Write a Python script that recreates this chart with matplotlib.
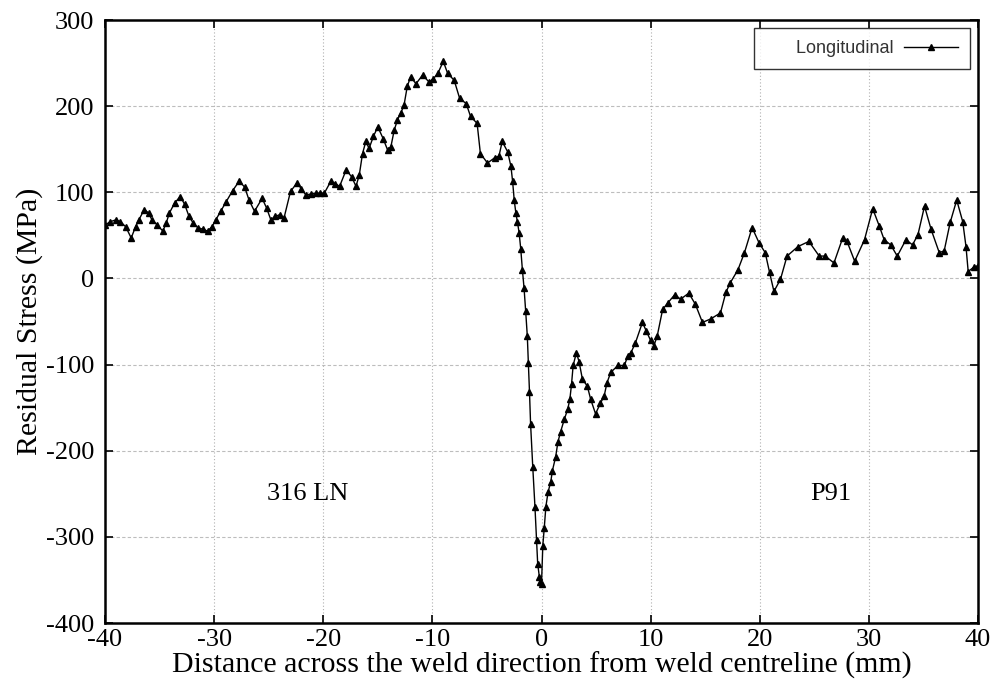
import matplotlib
matplotlib.use("Agg")
import matplotlib.pyplot as plt

# 316 LN side (left of weld)
x_left = [-40, -39.5, -39, -38.6, -38.1, -37.6, -37.2, -36.9, -36.4, -36.0,
          -35.7, -35.2, -34.7, -34.4, -34.1, -33.6, -33.1, -32.7, -32.3, -31.9,
          -31.5, -31.0, -30.6, -30.2, -29.85, -29.4, -28.9, -28.3, -27.7, -27.2,
          -26.8, -26.3, -25.6, -25.2, -24.8, -24.4, -24.0, -23.6, -23.0, -22.4,
          -22.0, -21.6, -21.1, -20.7, -20.3, -19.9, -19.3, -18.9, -18.5, -17.9,
          -17.4, -17.0, -16.7, -16.4, -16.1, -15.8, -15.4, -15.0, -14.5, -14.1,
          -13.8, -13.5, -13.2, -12.9, -12.6, -12.3, -12.0, -11.5, -10.9, -10.3,
          -9.9, -9.5, -9.0, -8.6, -8.0, -7.5, -6.9, -6.5, -5.9, -5.6,
          -4.95, -4.3, -3.9, -3.6, -3.1]
y_left = [62, 66, 68, 66, 60, 47, 60, 68, 80, 76,
          68, 62, 55, 64, 76, 88, 95, 86, 72, 64,
          59, 57, 55, 60, 68, 78, 89, 102, 113, 106,
          91, 78, 93, 82, 68, 72, 74, 70, 101, 111,
          104, 97, 98, 99, 99, 99, 113, 110, 107, 126,
          118, 107, 120, 145, 159, 151, 165, 176, 162, 149,
          153, 172, 184, 192, 201, 223, 234, 226, 236, 228,
          232, 238, 252, 238, 230, 209, 203, 188, 180, 145,
          134, 140, 142, 159, 147]

# weld centre region
x_mid = [-2.8, -2.65, -2.5, -2.35, -2.2, -2.05, -1.9, -1.75, -1.6, -1.45,
         -1.3, -1.2, -1.1, -1.0, -0.8, -0.6, -0.45, -0.35, -0.2, -0.1,
         0.0, 0.12, 0.25, 0.4, 0.6, 0.85, 1.0, 1.3, 1.5, 1.75,
         2.1, 2.4, 2.6, 2.75, 2.9, 3.2]
y_mid = [130, 113, 91, 76, 65, 53, 34, 10, -11, -38,
         -67, -98, -132, -169, -219, -265, -304, -331, -346, -352,
         -355, -310, -290, -265, -248, -236, -223, -207, -190, -178,
         -163, -152, -140, -123, -101, -86]

# P91 side (right of weld)
x_right = [3.45, 3.75, 4.2, 4.5, 4.95, 5.4, 5.75, 6.0, 6.35, 7.0,
           7.6, 7.9, 8.2, 8.6, 9.25, 9.6, 10.0, 10.3, 10.6, 11.1,
           11.6, 12.2, 12.75, 13.5, 14.1, 14.75, 15.5, 16.4, 16.9, 17.3,
           18.0, 18.6, 19.3, 19.95, 20.5, 20.9, 21.3, 21.9, 22.5, 23.5,
           24.5, 25.45, 26.0, 26.8, 27.6, 28.0, 28.7, 29.6, 30.35, 30.95,
           31.4, 32.0, 32.6, 33.4, 34.0, 34.5, 35.1, 35.7, 36.45, 36.9,
           37.45, 38.05, 38.6, 38.9, 39.1, 39.6, 40.0]
y_right = [-97, -117, -125, -140, -157, -145, -136, -121, -109, -101,
           -101, -90, -86, -75, -51, -61, -72, -78, -67, -36,
           -28, -19, -24, -17, -30, -51, -47, -40, -16, -5,
           10, 30, 59, 41, 30, 7, -15, -1, 26, 37,
           43, 26, 26, 18, 47, 43, 20, 45, 81, 61,
           45, 39, 26, 45, 39, 51, 84, 57, 30, 32,
           65, 91, 66, 37, 8, 13, 15]

y_ticks = [-400, -300, -200, -100, 0, 100, 200, 300]
x_ticks = [-40, -30, -20, -10, 0, 10, 20, 30, 40]

distance_mm = x_left + x_mid + x_right
stress_mpa = y_left + y_mid + y_right

plt.rcParams['axes.unicode_minus'] = False

fig = plt.figure(figsize=(10, 6.9), dpi=100)
ax = fig.add_axes([0.105, 0.097, 0.873, 0.874])

ax.plot(distance_mm, stress_mpa, color='black', linewidth=1.0, marker='^',
        markersize=4.5, markerfacecolor='black', markeredgecolor='black',
        label='      Longitudinal')

ax.set_xlim(-40, 40)
ax.set_ylim(-400, 300)
ax.set_xticks(x_ticks)
ax.set_yticks(y_ticks)

for yv in y_ticks[1:-1]:
    ax.axhline(yv, color='#bdbdbd', linewidth=0.8, linestyle=(0, (3, 2)), zorder=0)
for xv in x_ticks[1:-1]:
    ax.axvline(xv, color='#b0b0b0', linewidth=0.8, linestyle=(0, (1, 2)), zorder=0)

serif = ['Liberation Serif', 'DejaVu Serif']
ax.tick_params(direction='in', length=6, width=1.2, top=True, right=True,
               labelsize=19)
ax.tick_params(axis='y', pad=8)
ax.tick_params(axis='x', pad=4)
for lab in ax.get_xticklabels() + ax.get_yticklabels():
    lab.set_family(serif)

for s in ax.spines.values():
    s.set_linewidth(1.8)

ax.set_xlabel('Distance across the weld direction from weld centreline (mm)',
              fontsize=21.5, family=serif, labelpad=1)
ax.set_ylabel('Residual Stress (MPa)', fontsize=21.5, family=serif, labelpad=2)

ax.text(-21.4, -250, '316 LN', fontsize=19, family=serif, ha='center', va='center')
ax.text(26.5, -250, 'P91', fontsize=19, family=serif, ha='center', va='center')

leg = ax.legend(loc='upper right', markerfirst=False, fancybox=False,
                frameon=True, edgecolor='black',
                prop={'family': 'Liberation Sans', 'size': 13},
                borderaxespad=0.45, handlelength=3.0, handletextpad=0.6,
                borderpad=0.65)
leg.get_frame().set_linewidth(1.0)
for t in leg.get_texts():
    t.set_color('#333333')

fig.savefig('out.png', dpi=100)
